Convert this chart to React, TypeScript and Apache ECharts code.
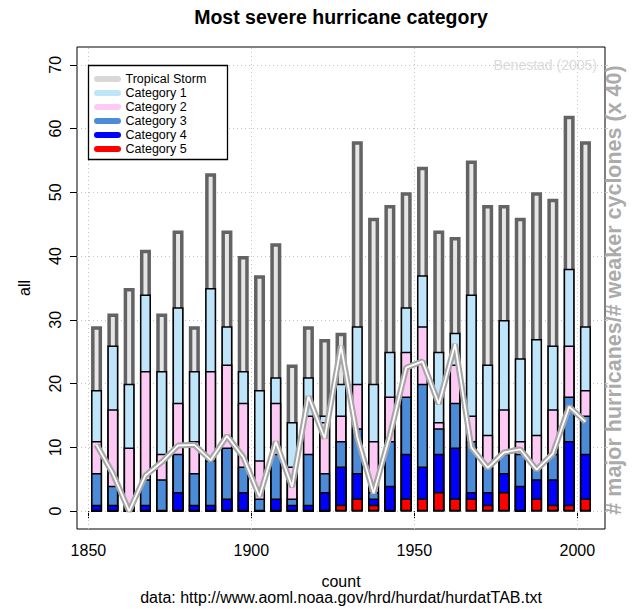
import { useEffect, useRef } from "react";
import * as echarts from "echarts";

// Start year of each 5-year period
const periodStart = [
  1850, 1855, 1860, 1865, 1870, 1875, 1880, 1885, 1890, 1895, 1900,
  1905, 1910, 1915, 1920, 1925, 1930, 1935, 1940, 1945, 1950, 1955,
  1960, 1965, 1970, 1975, 1980, 1985, 1990, 1995, 2000,
];
// Number of storms reaching at least each category
const tropicalStorm = [29, 31, 35, 41, 31, 44, 29, 53, 44, 40, 37, 42, 23, 29, 27, 28, 58, 46, 48, 50, 54, 44, 43, 55, 48, 48, 46, 50, 49, 62, 58];
const category1 = [19, 26, 20, 34, 22, 32, 22, 35, 29, 22, 19, 21, 14, 21, 15, 20, 29, 20, 25, 32, 37, 25, 28, 34, 23, 30, 24, 27, 26, 38, 29];
const category2 = [11, 16, 10, 22, 9, 17, 11, 22, 23, 17, 8, 17, 7, 15, 14, 15, 20, 11, 18, 25, 29, 14, 23, 15, 12, 16, 11, 12, 16, 26, 19];
const category3 = [6, 4, 0, 5, 5, 9, 6, 8, 10, 7, 2, 9, 2, 9, 6, 11, 13, 3, 11, 18, 20, 13, 17, 11, 7, 9, 9, 7, 9, 18, 15];
const category4 = [1, 1, 0, 1, 0, 3, 1, 1, 2, 3, 0, 2, 1, 1, 3, 7, 6, 2, 4, 9, 7, 9, 10, 3, 3, 6, 4, 5, 5, 11, 9];
const category5 = [0, 0, 0, 0, 0, 0, 0, 0, 0, 0, 0, 0, 0, 0, 0, 1, 2, 1, 0, 2, 2, 3, 2, 2, 1, 3, 0, 2, 1, 1, 2];
// # major hurricanes / # weaker cyclones (x 40)
const ratioX40 = [10.4, 5.9, 0, 5.6, 7.7, 10.3, 10.4, 8.0, 11.8, 8.5, 2.3, 10.9, 3.8, 18.0, 11.4, 25.9, 11.6, 2.8, 11.9, 22.5, 23.5, 16.8, 26.2, 10.0, 6.8, 9.2, 9.7, 6.5, 9.0, 16.4, 14.0];

const layerNames = ["Tropical Storm", "Category 1", "Category 2", "Category 3", "Category 4", "Category 5"];
const xTicks = [1850, 1900, 1950, 2000];
const yTicks = [0, 10, 20, 30, 40, 50, 60, 70];

export default function App() {
  const ref = useRef<HTMLDivElement>(null);
  useEffect(() => {
    const chart = echarts.init(ref.current!, null, { renderer: "svg" });
    const font = "'Liberation Sans', Arial, Helvetica, sans-serif";
    const centers = periodStart.map((y) => y + 2.5);
    const layerValues = [tropicalStorm, category1, category2, category3, category4, category5];
    const fills = ["#e6e6e6", "#bfe5fa", "#fdcaf6", "#4c8bd8", "#0000ff", "#ff0000"];
    const swatch = ["#d8d8d8", "#bfe5fa", "#fdcaf6", "#4c8bd8", "#0000ff", "#ff0000"];

    const barSeries: any[] = layerValues.map((vals, i) => ({
      type: "bar",
      name: layerNames[i],
      data: centers.map((c, k) => [c, vals[k]]),
      barWidth: 11,
      barGap: "-100%",
      silent: true,
      z: 2,
      itemStyle: {
        color: fills[i],
        borderColor: i === 0 ? "#636363" : "#000000",
        borderWidth: i === 0 ? 3.5 : 1.5,
      },
    }));

    const ratioData = centers.map((c, k) => [c, ratioX40[k]]);
    const lineSeries: any[] = [
      {
        type: "line",
        data: ratioData,
        symbol: "none",
        silent: true,
        z: 3,
        lineStyle: { color: "#a6a6a6", width: 6 },
        markLine: {
          silent: true,
          z: 1,
          symbol: ["none", "none"],
          label: { show: false },
          lineStyle: { color: "#c4c4c4", type: [1, 3], width: 1 },
          data: [
            ...xTicks.map((v) => ({ xAxis: v })),
            ...yTicks.map((v) => ({ yAxis: v })),
          ],
        },
      },
      {
        type: "line",
        data: ratioData,
        symbol: "none",
        silent: true,
        z: 4,
        lineStyle: { color: "#ffffff", width: 1.8 },
      },
    ];

    const rowH = 14;
    const legendEls: any[] = [
      {
        type: "rect",
        z: 100,
        shape: { x: 88.5, y: 65.5, width: 139, height: 10 + rowH * 6 },
        style: { fill: "#ffffff", stroke: "#000000", lineWidth: 1.3 },
      },
    ];
    layerNames.forEach((n, i) => {
      const y = 79 + i * rowH;
      legendEls.push({
        type: "line",
        z: 101,
        shape: { x1: 97, y1: y, x2: 118, y2: y },
        style: { stroke: swatch[i], lineWidth: 6, lineCap: "round" },
      });
      legendEls.push({
        type: "text",
        z: 101,
        x: 125.5,
        y: y,
        style: {
          text: n,
          font: `12.5px ${font}`,
          fill: "#000",
          textAlign: "left",
          textVerticalAlign: "middle",
        },
      });
    });

    chart.setOption({
      animation: false,
      backgroundColor: "#ffffff",
      grid: {
        left: 77,
        right: 27,
        top: 47,
        bottom: 80,
        show: true,
        borderColor: "#000000",
        borderWidth: 1,
        backgroundColor: "transparent",
      },
      xAxis: {
        type: "value",
        min: 1846.5,
        max: 2008.5,
        axisLine: { show: false },
        axisTick: { show: true, customValues: xTicks, length: 7, lineStyle: { color: "#000" } },
        axisLabel: {
          customValues: xTicks,
          formatter: (v: number) => String(v),
          fontSize: 16,
          fontFamily: font,
          color: "#000",
          margin: 13,
        },
        splitLine: { show: false },
      },
      yAxis: [
        {
          type: "value",
          position: "left",
          min: -2.8,
          max: 72.8,
          axisLine: { show: false },
          axisTick: { show: true, customValues: yTicks, length: 7, lineStyle: { color: "#000" } },
          axisLabel: {
            customValues: yTicks,
            formatter: (v: number) => String(v),
            rotate: 90,
            fontSize: 16,
            fontFamily: font,
            color: "#000",
            margin: 14,
          },
          splitLine: { show: false },
        },
        {
          type: "value",
          position: "right",
          min: -2.8,
          max: 72.8,
          axisLine: { show: false },
          axisTick: { show: true, customValues: yTicks, length: 3, lineStyle: { color: "#c8c8c8" } },
          axisLabel: { show: false },
          splitLine: { show: false },
        },
      ],
      series: [...barSeries, ...lineSeries],
      graphic: [
        {
          type: "text",
          x: 341,
          y: 17,
          style: {
            text: "Most severe hurricane category",
            font: `bold 19.5px ${font}`,
            fill: "#000",
            textAlign: "center",
            textVerticalAlign: "middle",
          },
        },
        {
          type: "text",
          x: 24,
          y: 288,
          rotation: Math.PI / 2,
          style: { text: "all", font: `16px ${font}`, fill: "#000", textAlign: "center", textVerticalAlign: "middle" },
        },
        {
          type: "text",
          x: 341,
          y: 581,
          style: { text: "count", font: `16px ${font}`, fill: "#000", textAlign: "center", textVerticalAlign: "middle" },
        },
        {
          type: "text",
          x: 341,
          y: 597,
          style: {
            text: "data: http://www.aoml.noaa.gov/hrd/hurdat/hurdatTAB.txt",
            font: `16px ${font}`,
            fill: "#000",
            textAlign: "center",
            textVerticalAlign: "middle",
          },
        },
        {
          type: "text",
          x: 614,
          y: 290,
          rotation: Math.PI / 2,
          style: {
            text: "# major hurricanes/# weaker cyclones (x 40)",
            font: `bold 21.5px ${font}`,
            fill: "#ababab",
            textAlign: "center",
            textVerticalAlign: "middle",
          },
        },
        {
          type: "text",
          x: 597,
          y: 65,
          style: {
            text: "Benestad (2005)",
            font: `14px ${font}`,
            fill: "#dadada",
            textAlign: "right",
            textVerticalAlign: "middle",
          },
        },
        ...legendEls,
      ],
    });
    return () => chart.dispose();
  }, []);
  return (
    <div
      ref={ref}
      style={{ position: "absolute", left: 0, top: 0, width: 632, height: 609, background: "#fff" }}
    />
  );
}
